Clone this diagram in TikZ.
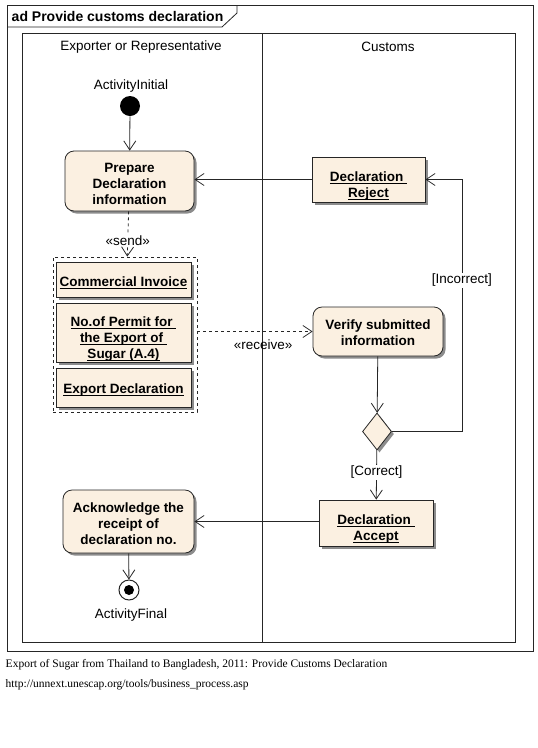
\documentclass[tikz,border=0pt]{standalone}
\usepackage{fontspec}
\setmainfont{Liberation Sans}
\newfontfamily\capfont{Liberation Serif}
\usetikzlibrary{arrows.meta,shapes.geometric,shadows}
\definecolor{actfill}{HTML}{FBF0E1}
\definecolor{edge}{HTML}{262626}
% underline close to the baseline, as in the object nodes
\newcommand\ulobj[1]{\setbox0\hbox{#1}\rlap{\vrule width\wd0 height -1.6pt depth 2.6pt}\box0}
\tikzset{
  every path/.style={line width=0.8pt},
  shade box/.style={drop shadow={shadow xshift=2.5pt,shadow yshift=-2.5pt,fill=black!45,opacity=1}},
  actbox/.style={draw=edge,fill=actfill,rounded corners=9pt,shade box,inner sep=0pt,
    align=center,font=\fontsize{13.5}{16}\selectfont\bfseries},
  objbox/.style={draw=edge,fill=actfill,shade box,inner sep=0pt,
    align=center,font=\fontsize{13.5}{16}\selectfont\bfseries},
  flow/.style={draw=edge,-{Straight Barb[length=9pt,width=12pt]}},
  lbl/.style={font=\fontsize{13.5}{15}\selectfont},
  guard/.style={lbl,fill=white,inner sep=1pt},
}
\begin{document}
\begin{tikzpicture}[x=1pt,y=-1pt]
\useasboundingbox (0,0) rectangle (538,748);

% frame and title tab
\draw[edge] (7,5) rectangle (533,651);
\draw[edge] (7,27) -- (222,27) -- (237,13) -- (237,5);
\node[anchor=west,font=\fontsize{14}{16}\selectfont\bfseries] (title) at (8,16) {ad Provide customs declaration};

% swimlanes
\draw[edge] (22,33) rectangle (515,642);
\draw[edge] (262,33) -- (262,642);
\node[lbl] (laneA) at (141,47) {Exporter or Representative};
\node[lbl] (laneB) at (388,47) {Customs};

% start
\node[lbl] (initlbl) at (131,86) {ActivityInitial};
\node[circle,fill=black,minimum size=20pt,inner sep=0pt] (init) at (130,106) {};

% exporter side
\node[actbox,minimum width=129pt,minimum height=60pt,text height=48pt] (prep) at (129.5,181)
  {Prepare\\Declaration\\information};
\node[draw=edge,dashed,minimum width=144pt,minimum height=155pt,inner sep=0pt] (docs) at (125,334.5) {};
\node[objbox,minimum width=135pt,minimum height=35pt,text height=17pt] (inv) at (123.5,279.5)
  {\ulobj{Commercial Invoice}};
\node[objbox,minimum width=135pt,minimum height=59pt,text height=55pt] (permit) at (123.5,332.5)
  {\ulobj{No.of Permit for~}\\\ulobj{the Export of~}\\\ulobj{Sugar (A.4)}};
\node[objbox,minimum width=135pt,minimum height=39pt,text height=14pt] (expdecl) at (123.5,387.5)
  {\ulobj{Export Declaration}};
\node[actbox,minimum width=131pt,minimum height=63pt,text height=47pt] (ack) at (128.5,521.5)
  {Acknowledge the\\receipt of\\declaration no.};

% end
\node[circle,draw=edge,line width=1pt,fill=white,minimum size=20pt,inner sep=0pt] (fin) at (129,590) {};
\node[circle,fill=black,minimum size=10pt,inner sep=0pt] (findot) at (fin) {};
\node[lbl] (finlbl) at (131,615) {ActivityFinal};

% customs side
\node[objbox,minimum width=113pt,minimum height=45pt,text height=38pt] (reject) at (368.5,179.5)
  {\ulobj{Declaration~}\\\ulobj{Reject}};
\node[actbox,minimum width=130pt,minimum height=49pt,text height=28pt] (verify) at (378,331.5)
  {Verify submitted\\information};
\node[diamond,draw=edge,fill=actfill,shade box,minimum width=29pt,minimum height=37pt,inner sep=0pt] (check) at (377,431.5) {};
\node[objbox,minimum width=114pt,minimum height=46pt,text height=37pt] (accept) at (376,523)
  {\ulobj{Declaration~}\\\ulobj{Accept}};

% flows
\draw[flow] (init) -- (prep);
\draw[flow] (reject.west) -- (reject.west -| prep.east);
\draw[flow,dashed] (prep) -- node[lbl,fill=white,inner sep=1pt,pos=0.64] (send) {«send»} (docs);
\draw[flow,dashed] (docs.east |- verify.west) -- node[lbl,below=4pt,pos=0.57] (recv) {«receive»} (verify.west);
\draw[flow] (verify) -- (check);
\draw[flow] (check.east) -- ++(70,0) coordinate (turn) |- node[guard,pos=0.3] (incorrect) {[Incorrect]} (reject.east);
\draw[flow] (check) -- node[guard,pos=0.45] (correct) {[Correct]} (accept);
\draw[flow] (accept.west |- ack.east) -- (ack.east);
\draw[flow] (ack) -- (fin);

% caption
\node[anchor=west,font=\capfont\fontsize{11.5}{13}\selectfont] (cap1) at (2,665)
  {Export of Sugar from Thailand to Bangladesh, 2011: Provide Customs Declaration};
\node[anchor=west,font=\capfont\fontsize{11.5}{13}\selectfont] (cap2) at (2,685)
  {http://unnext.unescap.org/tools/business\_process.asp};
\end{tikzpicture}
\end{document}
